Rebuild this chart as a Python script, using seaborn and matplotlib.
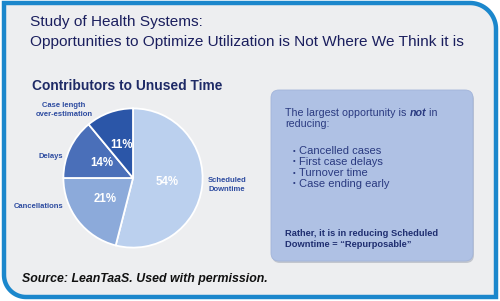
import numpy as np
import matplotlib
matplotlib.use("Agg")
import matplotlib.pyplot as plt
import seaborn as sns
from matplotlib.path import Path
from matplotlib.patches import PathPatch, FancyBboxPatch

# ---- data ----
categories = ["Scheduled\nDowntime", "Cancellations", "Delays", "Case length\nover-estimation"]
values = [54, 21, 14, 11]
slice_colors = ["#BBD0EE", "#8CAADA", "#4A6FB9", "#2B56A8"]
header_lines = ["Study of Health Systems:",
                "Opportunities to Optimize Utilization is Not Where We Think it is"]
pie_title = "Contributors to Unused Time"
bullets = ["Cancelled cases", "First case delays", "Turnover time", "Case ending early"]
box_intro = ("The largest opportunity is ", "not", " in", "reducing:")
box_conclusion = ["Rather, it is in reducing Scheduled", "Downtime = \u201cRepurposable\u201d"]
source = "Source: LeanTaaS. Used with permission."

sns.set_theme(style="white")
plt.rcParams["font.family"] = ["Liberation Sans", "DejaVu Sans"]

W, H = 500, 301
fig = plt.figure(figsize=(W / 100, H / 100), dpi=100)
fig.patch.set_facecolor("white")
bg = fig.add_axes([0, 0, 1, 1])
bg.set_xlim(0, W)
bg.set_ylim(H, 0)
bg.axis("off")

# frame with rounded top-right and bottom-left corners
def arc(cx, cy, r, a0, a1, n=20):
    t = np.radians(np.linspace(a0, a1, n))
    return list(zip(cx + r * np.cos(t), cy - r * np.sin(t)))

x0, y0, x1, y1 = 4, 3, 496, 297
rtr, rbl = 26, 22
pts = [(x0, y0), (x1 - rtr, y0)]
pts += arc(x1 - rtr, y0 + rtr, rtr, 90, 0)
pts += [(x1, y1), (x0 + rbl, y1)]
pts += arc(x0 + rbl, y1 - rbl, rbl, 270, 180)
pts += [(x0, y0)]
codes = [Path.MOVETO] + [Path.LINETO] * (len(pts) - 2) + [Path.CLOSEPOLY]
bg.add_patch(PathPatch(Path(pts, codes), facecolor="#EDEEF0", edgecolor="#1B87CC", lw=3.2))

# header
navy = "#1B1F5E"
bg.text(30, 22, header_lines[0], fontsize=11.1, color=navy, va="center", ha="left")
bg.text(30, 42, header_lines[1], fontsize=11.1, color=navy, va="center", ha="left")

# pie title
bg.text(127, 86, pie_title, fontsize=9.9, fontweight="bold", color="#1E2A66", ha="center", va="center")

# right box
bg.add_patch(FancyBboxPatch((272, 92), 202, 171, boxstyle="round,pad=0,rounding_size=8",
                            facecolor="#8E96A6", edgecolor="none", alpha=0.45))
bg.add_patch(FancyBboxPatch((271, 90), 202, 171, boxstyle="round,pad=0,rounding_size=8",
                            facecolor="#AFC1E4", edgecolor="#A2B4DA", lw=0.6))
tc = "#2A3A80"
fs = 7.7
renderer = fig.canvas.get_renderer()
t1 = bg.text(285, 113, box_intro[0], fontsize=fs, color=tc, va="center", ha="left")
bb = t1.get_window_extent(renderer).transformed(bg.transData.inverted())
t2 = bg.text(bb.x1, 113, box_intro[1], fontsize=fs, color=tc, va="center", ha="left",
             fontweight="bold", fontstyle="italic")
bb2 = t2.get_window_extent(renderer).transformed(bg.transData.inverted())
bg.text(bb2.x1, 113, box_intro[2], fontsize=fs, color=tc, va="center", ha="left")
bg.text(285, 124, box_intro[3], fontsize=fs, color=tc, va="center", ha="left")
for i, b in enumerate(bullets):
    y = 151 + i * 11
    bg.text(292.5, y, "\u2022", fontsize=5.5, color=tc, va="center", ha="left")
    bg.text(299, y, b, fontsize=8.0, color=tc, va="center", ha="left")
for i, line in enumerate(box_conclusion):
    bg.text(285, 234 + i * 10.5, line, fontsize=6.7, color="#1F2E70", fontweight="bold",
            va="center", ha="left")

# source
bg.text(22, 279, source, fontsize=8.9, fontstyle="italic", fontweight="bold", color="#111111",
        va="center", ha="left")

# pie
cx, cy, R = 133, 178, 71
ax = fig.add_axes([(cx - R) / W, (H - cy - R) / H, 2 * R / W, 2 * R / H])
ax.pie(values, colors=slice_colors, startangle=90, counterclock=False, radius=1,
       autopct=lambda p: f"{p:.0f}%", pctdistance=0.5,
       wedgeprops=dict(edgecolor="white", linewidth=1.3),
       textprops=dict(color="white", fontweight="bold", fontsize=8.3))
ax.set_xlim(-1.02, 1.02)
ax.set_ylim(-1.02, 1.02)
ax.axis("off")
lc = "#2D4BA0"
lfs = 5.5
label_pos = [(1.08, -0.10, "left"), (-1.0, -0.41, "right"), (-1.0, 0.31, "right"), (-0.99, 0.98, "center")]
for (lx, ly, ha), name in zip(label_pos, categories):
    ax.text(lx, ly, name, fontsize=lfs, fontweight="bold", color=lc, ha=ha, va="center",
            linespacing=1.3)

fig.savefig("out.png", dpi=100)
